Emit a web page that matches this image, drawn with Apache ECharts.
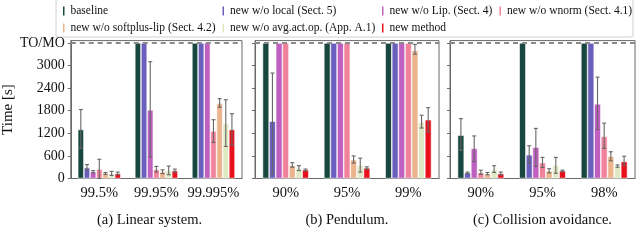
<!DOCTYPE html>
<html><head><meta charset="utf-8">
<script src="https://cdn.jsdelivr.net/npm/echarts@6/dist/echarts.min.js"></script>
<style>html,body{margin:0;padding:0;background:#fff}#c{width:640px;height:241px}</style>
</head><body><div id="c"></div>
<script>
const seriesNames = ['baseline','new w/o local (Sect. 5)','new w/o Lip. (Sect. 4)','new w/o wnorm (Sect. 4.1)','new w/o softplus-lip (Sect. 4.2)','new w/o avg.act.op. (App. A.1)','new method'];
const seriesColors = ['#17473f','#6a5fbd','#bf5fc0','#f0839b','#ebb48c','#dfe9c3','#e8101b'];
const yTicks = [0,600,1200,1800,2400,3000,3600];
const yTickLabels = ['0','600','1200','1800','2400','3000','TO/MO'];
const timeoutValue = 3600;

const catLinear = ['99.5%','99.95%','99.995%'];
const linearMean = [[1300,3600,3600],[290,3600,3600],[180,1820,3600],[250,240,1260],[140,180,2000],[130,220,1460],[130,210,1300]];
const linearLow  = [[800,null,null],[220,null,null],[150,570,null],[0,170,960],[110,130,1890],[80,100,850],[100,170,890]];
const linearHigh = [[1830,null,null],[370,null,null],[210,3100,null],[510,320,1560],[160,230,2120],[190,330,2090],[170,250,1720]];

const catPendulum = ['90%','95%','99%'];
const pendulumMean = [[3600,3600,3600],[1520,3600,3600],[3600,3600,3600],[3600,3600,3600],[350,500,3400],[280,350,1500],[230,280,1560]];
const pendulumLow  = [[null,null,null],[120,null,null],[null,null,null],[null,null,null],[300,410,3300],[210,170,1340],[200,250,1240]];
const pendulumHigh = [[null,null,null],[2800,null,null],[null,null,null],[null,null,null],[420,600,3560],[340,540,1680],[250,310,1880]];

const catCollision = ['90%','95%','98%'];
const collisionMean = [[1150,3600,3600],[150,630,3600],[800,830,1980],[160,420,1120],[120,200,590],[240,350,330],[130,200,450]];
const collisionLow  = [[750,null,null],[130,410,null],[450,320,1300],[110,290,800],[100,150,470],[160,140,300],[90,180,350]];
const collisionHigh = [[1590,null,null],[170,870,null],[1130,1330,2690],[220,560,1470],[160,260,710],[340,560,360],[170,220,590]];

const panels = [
  {cats:catLinear, mean:linearMean, low:linearLow, high:linearHigh, left:57, width:185, caption:'(a) Linear system.'},
  {cats:catPendulum, mean:pendulumMean, low:pendulumLow, high:pendulumHigh, left:255, width:184, caption:'(b) Pendulum.'},
  {cats:catCollision, mean:collisionMean, low:collisionLow, high:collisionHigh, left:450, width:185, caption:'(c) Collision avoidance.'}
];

const FONT = 'Liberation Serif';
const GAP = 0.245;
const gridTop = 40.6, gridH = 137.9;

const chart = echarts.init(document.getElementById('c'), null, {renderer:'canvas'});
const grid = [], xAxis = [], yAxis = [], series = [], graphic = [];

panels.forEach((p, pi) => {
  grid.push({left:p.left, top:gridTop, width:p.width, height:gridH, show:true, borderColor:'#6a6a6a', borderWidth:1, backgroundColor:'transparent'});
  xAxis.push({type:'category', gridIndex:pi, data:p.cats,
    axisLine:{show:true, lineStyle:{color:'#6a6a6a', width:1}}, axisTick:{show:false},
    axisLabel:{interval:0, hideOverlap:false, fontFamily:FONT, fontSize:14.5, color:'#111', margin:7}});
  yAxis.push({type:'value', gridIndex:pi, min:0, max:3660,
    name: pi===0 ? 'Time [s]' : '', nameLocation:'middle', nameGap:43, nameRotate:90,
    nameTextStyle:{fontFamily:FONT, fontSize:15, color:'#111'},
    axisLine:{show:true, lineStyle:{color:'#6a6a6a', width:1}},
    axisTick:{show:true, length:3, customValues:yTicks, lineStyle:{color:'#6a6a6a'}},
    axisLabel:{show: pi===0, customValues:yTicks, fontFamily:FONT, fontSize:14, color:'#111', margin:6,
      formatter:(v)=>{const i=yTicks.indexOf(v); return i>=0? yTickLabels[i] : '';}},
    splitLine:{show:false}});
  seriesNames.forEach((n, si) => {
    const s = {type:'bar', name:n, xAxisIndex:pi, yAxisIndex:pi, data:p.mean[si],
      barGap:'0%', barCategoryGap:(GAP*100)+'%',
      itemStyle:{color:seriesColors[si], borderColor:'#ffffff', borderWidth:0.6},
      emphasis:{disabled:true}, animation:false};
    if (si === 0) {
      s.markLine = {silent:true, symbol:'none', z:10, label:{show:false},
        lineStyle:{color:'#8a8a8a', width:2, type:[5,4]},
        data:[{yAxis:timeoutValue}]};
    }
    series.push(s);
  });
  const errData = [];
  seriesNames.forEach((n, si) => {
    p.cats.forEach((c, ci) => {
      if (p.low[si][ci] != null) errData.push([ci, si, p.low[si][ci], p.high[si][ci]]);
    });
  });
  series.push({type:'custom', xAxisIndex:pi, yAxisIndex:pi, data:errData, z:5, animation:false, silent:true,
    renderItem:(params, api) => {
      const ci = api.value(0), si = api.value(1), lo = api.value(2), hi = api.value(3);
      const band = api.size([1,0])[0];
      const total = band*(1-GAP);
      const bw = total/7;
      const c = api.coord([ci, 0]);
      const x = c[0] - total/2 + (si+0.5)*bw;
      const yl = api.coord([ci, lo])[1], yh = api.coord([ci, hi])[1];
      const st = {stroke:'#666', lineWidth:1.1};
      return {type:'group', children:[
        {type:'line', shape:{x1:x, y1:yl, x2:x, y2:yh}, style:st},
        {type:'line', shape:{x1:x-2, y1:yh, x2:x+2, y2:yh}, style:st},
        {type:'line', shape:{x1:x-2, y1:yl, x2:x+2, y2:yl}, style:st}
      ]};
    }});
  graphic.push({type:'text', x:p.left + p.width/2, y:220, style:{text:p.caption, fontFamily:FONT, fontSize:14.5, fill:'#111', align:'center', verticalAlign:'middle'}});
});

graphic.push({type:'rect', shape:{x:56, y:-3, width:577, height:40, r:2}, style:{fill:'#fff', stroke:'#cfcfcf', lineWidth:1}, z:-1});

const legendCols = [61, 220.5, 380, 497.5];
const legendRows = [4.5, 21.5];
const legendSlots = [[0,0],[0,1],[0,2],[0,3],[1,0],[1,1],[1,2]];
const legend = seriesNames.map((n, i) => ({
  data:[n], left:legendCols[legendSlots[i][1]], top:legendRows[legendSlots[i][0]], padding:0,
  itemWidth:3.5, itemHeight:11, itemGap:0, selectedMode:false,
  textStyle:{fontFamily:FONT, fontSize:11.5, color:'#111'},
  icon:'rect'
}));

chart.setOption({animation:false, grid, xAxis, yAxis, series, legend, graphic});
</script></body></html>
